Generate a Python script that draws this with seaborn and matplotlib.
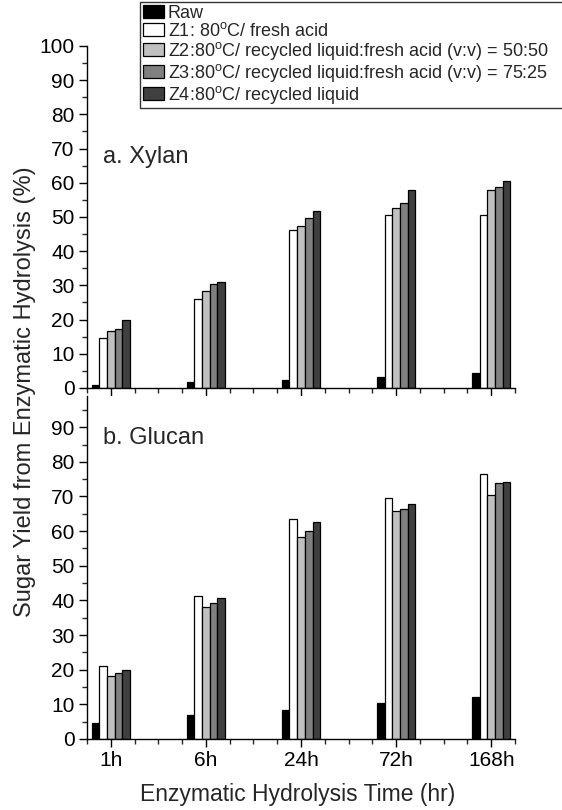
import matplotlib
matplotlib.use("Agg")
import matplotlib.pyplot as plt
from matplotlib.ticker import MultipleLocator
import seaborn as sns
import pandas as pd

times = ["1h", "6h", "24h", "72h", "168h"]
series = ["Raw",
          "Z1: 80$^\\mathregular{o}$C/ fresh acid",
          "Z2:80$^\\mathregular{o}$C/ recycled liquid:fresh acid (v:v) = 50:50",
          "Z3:80$^\\mathregular{o}$C/ recycled liquid:fresh acid (v:v) = 75:25",
          "Z4:80$^\\mathregular{o}$C/ recycled liquid"]
colors = ["#000000", "#ffffff", "#c0c0c0", "#808080", "#404040"]

xylan_raw = [1.0, 1.7, 2.4, 3.3, 4.3]
xylan_z1 = [14.6, 26.1, 46.3, 50.5, 50.5]
xylan_z2 = [16.7, 28.5, 47.4, 52.7, 58.0]
xylan_z3 = [17.3, 30.4, 49.6, 54.2, 58.8]
xylan_z4 = [20.0, 31.0, 51.7, 57.9, 60.6]

glucan_raw = [4.5, 6.9, 8.5, 10.4, 12.1]
glucan_z1 = [21.2, 41.3, 63.6, 69.7, 76.6]
glucan_z2 = [18.3, 38.0, 58.2, 65.9, 70.5]
glucan_z3 = [19.0, 39.3, 60.0, 66.3, 73.8]
glucan_z4 = [19.9, 40.6, 62.5, 67.9, 74.3]


def long_df(cols):
    rows = []
    for s, vals in zip(series, cols):
        for t, v in zip(times, vals):
            rows.append({"time": t, "series": s, "value": v})
    return pd.DataFrame(rows)


df_x = long_df([xylan_raw, xylan_z1, xylan_z2, xylan_z3, xylan_z4])
df_g = long_df([glucan_raw, glucan_z1, glucan_z2, glucan_z3, glucan_z4])

sns.set_style("ticks")
plt.rcParams["font.family"] = ["Liberation Sans", "DejaVu Sans"]
plt.rcParams["mathtext.fontset"] = "custom"
plt.rcParams["mathtext.rm"] = "Liberation Sans"

fig = plt.figure(figsize=(5.62, 8.10), dpi=100)
W, H = 562.0, 810.0
left = 87 / W
width = (515 - 87) / W
ax1 = fig.add_axes([left, 1 - 388 / H, width, (388 - 46) / H])
ax2 = fig.add_axes([left, 1 - 739 / H, width, (739 - 396) / H])

pal = dict(zip(series, colors))
for ax, df in [(ax1, df_x), (ax2, df_g)]:
    sns.barplot(data=df, x="time", y="value", hue="series", order=times,
                hue_order=series, palette=pal, width=0.405, errorbar=None,
                edgecolor="black", linewidth=0.9, ax=ax, legend=(ax is ax1))
    ax.set_xlim(-0.25, 4.25)
    ax.xaxis.set_minor_locator(MultipleLocator(0.25))
    ax.yaxis.set_major_locator(MultipleLocator(10))
    ax.yaxis.set_minor_locator(MultipleLocator(5))
    ax.tick_params(axis="both", which="major", direction="out", length=6, width=1,
                   labelsize=15, colors="black", pad=3)
    ax.tick_params(axis="both", which="minor", direction="out", length=3.5, width=1)
    for sp in ["top", "right"]:
        ax.spines[sp].set_visible(False)
    for sp in ["left", "bottom"]:
        ax.spines[sp].set_linewidth(1.0)
        ax.spines[sp].set_color("black")
    ax.set_xlabel("")
    ax.set_ylabel("")
    ax.set_facecolor("white")

ax1.set_ylim(0, 100)
ax2.set_ylim(0, 99)
ax1.set_yticks(range(0, 101, 10))
ax2.set_yticks(range(0, 91, 10))
ax1.tick_params(axis="x", labelbottom=False)

ax1.text(-0.08, 67.5, "a. Xylan", fontsize=17, va="center", ha="left")
ax2.text(-0.08, 86.8, "b. Glucan", fontsize=17, va="center", ha="left")

handles, labels = ax1.get_legend_handles_labels()
ax1.get_legend().remove()
leg = fig.legend(handles, labels, loc="upper left",
                 bbox_to_anchor=(140 / W, 0.80, 0.76, 1 - 2 / H - 0.80),
                 mode="expand", fontsize=13, handlelength=1.2, handleheight=0.75,
                 labelspacing=0.0, handletextpad=0.2, borderpad=0.15,
                 borderaxespad=0.0, fancybox=False, frameon=True)
leg.get_frame().set_edgecolor("black")
leg.get_frame().set_linewidth(1.0)

fig.text(25 / W, 1 - 392 / H, "Sugar Yield from Enzymatic Hydrolysis (%)",
         rotation=90, fontsize=17, ha="center", va="center")
fig.text(298 / W, 1 - 795 / H, "Enzymatic Hydrolysis Time (hr)",
         fontsize=16.5, ha="center", va="center")

fig.savefig("out.png", dpi=100, facecolor="white")
